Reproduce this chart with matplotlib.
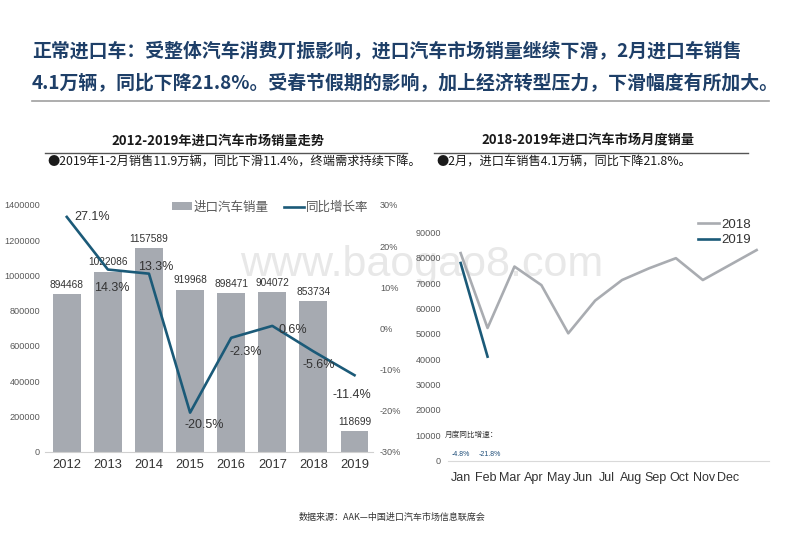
import numpy as np
import matplotlib
matplotlib.use('Agg')
import matplotlib.pyplot as plt

plt.rcParams['font.family'] = ['Liberation Sans', 'Noto Sans CJK SC', 'DejaVu Sans']

# Annual import sales 2012-2019 (2019 = Jan-Feb only)
years = ['2012', '2013', '2014', '2015', '2016', '2017', '2018', '2019']
sales = [894468, 1022086, 1157589, 919968, 898471, 904072, 853734, 118699]
growth = [27.1, 14.3, 13.3, -20.5, -2.3, 0.6, -5.6, -11.4]

# Monthly imports 2018 vs 2019
months = ['Jan', 'Feb', 'Mar', 'Apr', 'May', 'Jun', 'Jul', 'Aug', 'Sep', 'Oct', 'Nov', 'Dec']
m2018 = [81800, 52300, 76500, 69200, 50200, 63100, 71200, 75800, 79800, 71200, 77100, 83000]
m2019 = [77900, 41000]
yoy_month = ['-4.8%', '-21.8%']

navy = '#1b5a78'
bar_gray = '#a6aab1'
line_gray = '#a9acb1'
tick_gray = '#595959'
cjk = ['Noto Sans CJK SC', 'DejaVu Sans']

fig = plt.figure(figsize=(8, 5.54), dpi=100)

# headline
title_kw = dict(fontsize=13.6, fontweight='bold', color='#1e3f68', family=cjk)
fig.text(0.04, 1 - 52 / 554, '正常进口车：受整体汽车消费丌振影响，进口汽车市场销量继续下滑，2月进口车销售',
         va='center', **title_kw)
fig.text(0.04, 1 - 84 / 554, '4.1万辆，同比下降21.8%。受春节假期的影响，加上经济转型压力，下滑幅度有所加大。',
         va='center', **title_kw)
fig.add_artist(plt.Line2D([32 / 800, 769 / 800], [1 - 101 / 554] * 2, color='#a0a0a0', lw=1.2))

# panel headers
for cx, x0, x1, head, note in [
        (218, 45, 407, '2012-2019年进口汽车市场销量走势', '●2019年1-2月销售11.9万辆，同比下滑11.4%，终端需求持续下降。'),
        (588, 434, 748, '2018-2019年进口汽车市场月度销量', '●2月，进口车销售4.1万辆，同比下降21.8%。')]:
    fig.text(cx / 800, 1 - 140.5 / 554, head, ha='center', va='center', fontsize=9.5,
             fontweight='bold', color='#1a1a1a', family=cjk)
    fig.add_artist(plt.Line2D([x0 / 800, x1 / 800], [1 - 152.5 / 554] * 2, color='#555555', lw=1))
    fig.text((x0 + 2) / 800, 1 - 162.5 / 554, note, ha='left', va='center', fontsize=8.8,
             color='#1a1a1a', family=cjk)

# watermark
fig.text(422 / 800, 1 - 265 / 554, 'www.baogao8.com', ha='center', va='center',
         fontsize=31, color='#e8e8e8', zorder=-1)

# source
fig.text(392 / 800, 1 - 517 / 554, '数据来源：AAK—中国进口汽车市场信息联席会', ha='center', va='center',
         fontsize=6.5, color='#333333', family=cjk)

# ---- left chart: bars + growth line ----
ax = fig.add_axes([45 / 800, 1 - 451.7 / 554, 328 / 800, 246.7 / 554])
ax.patch.set_visible(False)
x = np.arange(len(years))
bars = ax.bar(x, sales, width=0.68, color=bar_gray, label='进口汽车销量')
ax.set_xlim(-0.53, 7.45)
ax.set_ylim(0, 1400000)
yt = list(range(0, 1400001, 200000))
ax.set_yticks(yt)
ax.set_yticklabels([str(v) for v in yt])
ax.set_xticks(x)
ax.set_xticklabels(years, fontsize=9.3, color='#333333')
ax.tick_params(axis='y', length=0, labelsize=6.6, labelcolor=tick_gray, pad=3.5)
ax.tick_params(axis='x', length=0, pad=5)
for s in ['top', 'right', 'left']:
    ax.spines[s].set_visible(False)
ax.spines['bottom'].set_color('#d0d0d0')
for xi, v in zip(x, sales):
    ax.annotate(str(v), (xi, v), xytext=(0, 3), textcoords='offset points',
                ha='center', va='bottom', fontsize=7.3, color='#333333')

ax2 = ax.twinx()
ax2.patch.set_visible(False)
ln, = ax2.plot(x, growth, color=navy, lw=1.9, label='同比增长率')
ax2.set_ylim(-30, 30)
ax2.set_yticks(range(-30, 31, 10))
ax2.set_yticklabels([f'{t}%' for t in range(-30, 31, 10)])
ax2.tick_params(axis='y', length=0, labelsize=6.6, labelcolor=tick_gray, pad=5)
for s in ax2.spines.values():
    s.set_visible(False)
# offsets of the % labels, in pixels (right, down)
offs = [(8, 0), (4, 18), (7, -7), (14, 12), (15, 14), (21, 4), (5, 14), (-3, 20)]
for xi, g, (dx, dy) in zip(x, growth, offs):
    ax2.annotate(f'{g}%', (xi, g), xytext=(dx * 0.72, -dy * 0.72), textcoords='offset points',
                 ha='left' if dy == 0 else 'center', va='center', fontsize=9, color='#333333')

ax.legend([bars, ln], ['进口汽车销量', '同比增长率'], loc='upper left', ncol=2,
          bbox_to_anchor=(0.387, 1.015), frameon=False, fontsize=9, handlelength=1.6,
          handleheight=0.6, handletextpad=0.15, columnspacing=1.2, borderpad=0,
          borderaxespad=0, labelcolor='#595959')

# ---- right chart: monthly lines ----
bx = fig.add_axes([448 / 800, 1 - 460.7 / 554, 321 / 800, 228.4 / 554])
bx.patch.set_visible(False)
mx = np.arange(len(months))
bx.plot(mx, m2018, color=line_gray, lw=1.9, label='2018')
bx.plot(mx[:len(m2019)], m2019, color=navy, lw=1.9, label='2019')
bx.set_xlim(-0.47, 11.46)
bx.set_ylim(0, 90000)
bx.set_yticks(range(0, 90001, 10000))
# month labels sit a little tighter than the plotted points in the original
bx.set_xticks(np.arange(12) * 0.9 + 0.03)
bx.set_xticklabels(months, fontsize=9, color='#333333')
bx.tick_params(axis='y', length=0, labelsize=6.6, labelcolor=tick_gray, pad=5)
bx.tick_params(axis='x', length=0, pad=8)
for s in ['top', 'right', 'left']:
    bx.spines[s].set_visible(False)
bx.spines['bottom'].set_color('#d9d9d9')
bx.text(-0.6, 10100, '月度同比增速：', ha='left', va='center', fontsize=5.5, color='#333333',
        family=cjk, clip_on=False)
for i, t in enumerate(yoy_month):
    bx.text(i * 1.1, 2500, t, ha='center', va='center', fontsize=5, color='#1f4e79')
bx.legend(loc='upper right', bbox_to_anchor=(0.945, 1.06), frameon=False, fontsize=9.5,
          handlelength=1.6, handletextpad=0.2, labelspacing=0.25, borderpad=0,
          borderaxespad=0, labelcolor='#333333')

fig.savefig('out.png', dpi=100)
